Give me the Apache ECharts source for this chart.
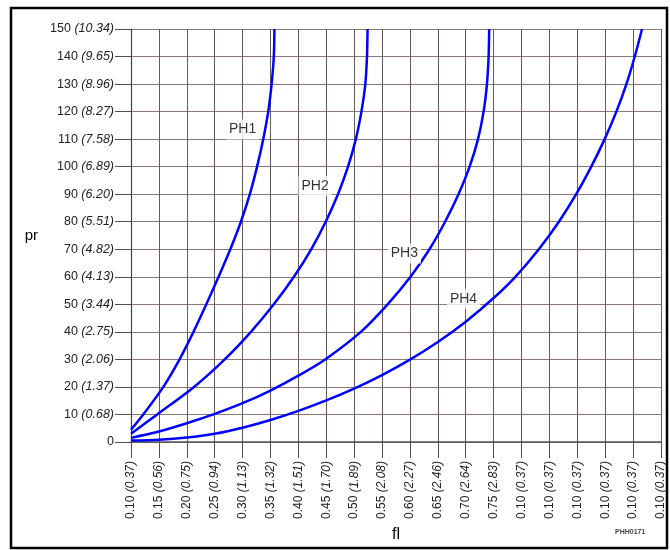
<!DOCTYPE html>
<html>
<head>
<meta charset="utf-8">
<script src="https://cdn.jsdelivr.net/npm/echarts@6/dist/echarts.min.js"></script>
<style>
  html, body { margin: 0; padding: 0; background: #fff; }
  #chart { width: 670px; height: 550px; }
</style>
</head>
<body>
<div id="chart"></div>
<script>
// tick labels
const xTickFl = ["0.10", "0.15", "0.20", "0.25", "0.30", "0.35", "0.40", "0.45", "0.50", "0.55",
  "0.60", "0.65", "0.70", "0.75", "0.10", "0.10", "0.10", "0.10", "0.10", "0.10"];
const xTickAlt = ["0.37", "0.56", "0.75", "0.94", "1.13", "1.32", "1.51", "1.70", "1.89", "2.08",
  "2.27", "2.46", "2.64", "2.83", "0.37", "0.37", "0.37", "0.37", "0.37", "0.37"];
const yTickAlt = ["", "0.68", "1.37", "2.06", "2.75", "3.44", "4.13", "4.82", "5.51", "6.20",
  "6.89", "7.58", "8.27", "8.96", "9.65", "10.34"];

// curves: [fl, pr]
const ph1 = [[0.10, 4.5], [0.122, 10], [0.158, 20], [0.187, 30], [0.212, 40], [0.235, 50],
  [0.257, 60], [0.278, 70], [0.297, 80], [0.313, 90], [0.326, 100], [0.337, 110],
  [0.346, 120], [0.352, 130], [0.356, 140], [0.357, 150]];
const ph2 = [[0.10, 3], [0.147, 10], [0.213, 20], [0.268, 30], [0.315, 40], [0.356, 50],
  [0.392, 60], [0.423, 70], [0.449, 80], [0.471, 90], [0.489, 100], [0.503, 110],
  [0.513, 120], [0.520, 130], [0.523, 140], [0.524, 150]];
const ph3 = [[0.10, 1.5], [0.15, 3.8], [0.20, 6.8], [0.25, 10.2], [0.30, 14.1], [0.35, 18.7],
  [0.40, 24.1], [0.448, 30], [0.512, 40], [0.560, 50], [0.601, 60], [0.635, 70],
  [0.663, 80], [0.687, 90], [0.707, 100], [0.722, 110], [0.732, 120], [0.738, 130],
  [0.741, 140], [0.742, 150]];
const ph4 = [[0.10, 0.5], [0.15, 0.8], [0.20, 1.6], [0.25, 3.0], [0.30, 5.2], [0.35, 8.0],
  [0.40, 11.3], [0.45, 15.1], [0.50, 19.4], [0.55, 24.3], [0.60, 29.9], [0.65, 36.3],
  [0.70, 43.7], [0.75, 52.3], [0.789, 60], [0.831, 70], [0.867, 80], [0.898, 90],
  [0.925, 100], [0.949, 110], [0.97, 120], [0.988, 130], [1.003, 140], [1.016, 150]];

const curveNames = ["PH1", "PH2", "PH3", "PH4"];
const labelPos = [[0.30, 113.5], [0.43, 93], [0.59, 68.5], [0.696, 52]];

(function () {
  let dom = document.querySelector("#chart");
  let myChart = echarts.init(dom);
  let font = "Liberation Sans, Arial, sans-serif";

  let curveSeries = [ph1, ph2, ph3, ph4].map(function (d, i) {
    return {
      name: curveNames[i],
      type: "line",
      data: d,
      smooth: 0.3,
      showSymbol: false,
      lineStyle: { color: "#0000ff", width: 2.5 },
      z: 3
    };
  });

  let options = {
    animation: false,
    grid: { left: 131, right: 9, top: 29, bottom: 108 },
    xAxis: {
      type: "value",
      min: 0.1,
      max: 1.05,
      interval: 0.05,
      name: "fl",
      nameLocation: "middle",
      nameGap: 80,
      nameTextStyle: { fontFamily: font, fontSize: 16, color: "#000" },
      axisLine: { show: true, onZero: false, lineStyle: { color: "#555", width: 1.5 } },
      axisTick: { show: true, length: 16, lineStyle: { color: "#5a4a4a" } },
      axisLabel: {
        rotate: 90,
        margin: 19,
        formatter: function (v) {
          let i = Math.round((v - 0.1) / 0.05);
          return xTickFl[i] + " {i|(" + xTickAlt[i] + ")}";
        },
        fontFamily: font,
        fontSize: 12,
        color: "#222",
        rich: { i: { fontStyle: "italic", fontFamily: font, fontSize: 12, color: "#222" } }
      },
      splitLine: { show: true, lineStyle: { color: "#6b5858", width: 1 } }
    },
    yAxis: {
      type: "value",
      min: 0,
      max: 150,
      interval: 10,
      name: "pr",
      nameLocation: "middle",
      nameRotate: 0,
      nameGap: 93,
      nameTextStyle: { fontFamily: font, fontSize: 15, color: "#000" },
      axisLine: { show: true, lineStyle: { color: "#444", width: 1.2 } },
      axisTick: { show: true, length: 16, lineStyle: { color: "#5a4a4a" } },
      axisLabel: {
        margin: 17,
        formatter: function (v) {
          let i = Math.round(v / 10);
          return yTickAlt[i] ? v + " {i|(" + yTickAlt[i] + ")}" : String(v);
        },
        fontFamily: font,
        fontSize: 12.5,
        color: "#222",
        rich: { i: { fontStyle: "italic", fontFamily: font, fontSize: 12.5, color: "#222" } }
      },
      splitLine: { show: true, lineStyle: { color: "#8c7878", width: 1 } }
    },
    series: curveSeries.concat([{
      type: "scatter",
      data: labelPos,
      symbolSize: 0,
      z: 4,
      label: {
        show: true,
        position: "inside",
        formatter: function (p) { return curveNames[p.dataIndex]; },
        fontFamily: font,
        fontSize: 14,
        color: "#000",
        backgroundColor: "#fff",
        padding: [3, 3]
      }
    }]),
    graphic: [
      {
        type: "rect",
        shape: { x: 11, y: 8, width: 656, height: 540 },
        style: { fill: "none", stroke: "#000", lineWidth: 2.5 },
        silent: true
      },
      {
        type: "text",
        left: 615,
        top: 529,
        style: { text: "PHH0171", font: "bold 7px Liberation Sans, Arial, sans-serif", fill: "#444" }
      }
    ]
  };
  myChart.setOption(options);
  window.addEventListener("resize", () => {
    myChart.resize();
  });
})();
</script>
</body>
</html>
